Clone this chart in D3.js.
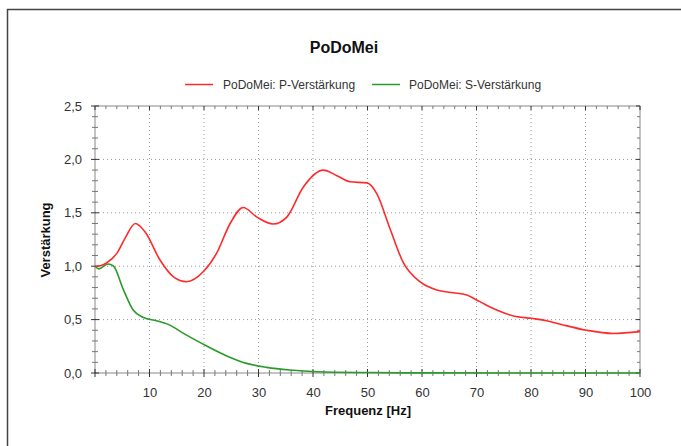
<!DOCTYPE html>
<html>
<head>
<meta charset="utf-8">
<script src="https://cdn.jsdelivr.net/npm/d3@7"></script>
<style>
  html, body { margin: 0; padding: 0; background: #fff; }
  svg { display: block; }
  text { font-family: "Liberation Sans", Arial, sans-serif; }
</style>
</head>
<body>
<svg id="chart" width="681" height="446"></svg>
<script>
// ---- Data ----
const title = "PoDoMei";
const seriesNames = ["PoDoMei: P-Verstärkung", "PoDoMei: S-Verstärkung"];
const xTicks = [10, 20, 30, 40, 50, 60, 70, 80, 90, 100];
const yTicks = [0, 0.5, 1.0, 1.5, 2.0, 2.5];
const yTickLabels = ["0,0", "0,5", "1,0", "1,5", "2,0", "2,5"];

const freqP = [0, 1, 2.1, 4, 5.5, 7.4, 9.2, 11.9, 14.4, 16.8, 19.9, 22.3, 24.8, 27.2, 29.7, 32.7, 35.2, 38.2, 41.9, 44.3, 46.8, 49.9, 51.7, 54.1, 56.6, 59.6, 62.7, 65.7, 68.2, 70.6, 73.7, 76.8, 80.1, 82.9, 85.9, 90.2, 95.1, 100];
const valP  = [1.0, 1.005, 1.03, 1.12, 1.26, 1.40, 1.32, 1.06, 0.90, 0.855, 0.95, 1.12, 1.40, 1.55, 1.46, 1.395, 1.46, 1.74, 1.90, 1.85, 1.79, 1.78, 1.68, 1.355, 1.03, 0.855, 0.777, 0.752, 0.73, 0.668, 0.59, 0.534, 0.512, 0.49, 0.45, 0.40, 0.37, 0.387];

const freqS = [0, 0.7, 2.4, 3.4, 5.2, 7.0, 8.9, 11.3, 13.2, 16.8, 20.5, 24.2, 27.8, 31.5, 35.8, 40.7, 50, 60, 100];
const valS  = [1.0, 0.975, 1.02, 1.0, 0.78, 0.59, 0.52, 0.49, 0.46, 0.355, 0.253, 0.16, 0.09, 0.053, 0.028, 0.012, 0.004, 0.001, 0.0];

const colors = ["#ff2a2a", "#2a9a2a"];

// ---- Layout ----
const svg = d3.select("#chart");
const L = 95, R = 640, T = 106, B = 373;

const x = d3.scaleLinear().domain([0, 100]).range([L, R]);
const y = d3.scaleLinear().domain([0, 2.5]).range([B, T]);

// outer frame
svg.append("rect").attr("x", 7.5).attr("y", 9.5).attr("width", 700).attr("height", 460)
  .attr("fill", "none").attr("stroke", "#444").attr("stroke-width", 1.5);

// title
svg.append("text").attr("x", 344).attr("y", 53).attr("text-anchor", "middle")
  .attr("font-size", 16).attr("font-weight", "bold").attr("fill", "#111").text(title);

// legend
const legendItems = [{x0: 185, tx: 223}, {x0: 372, tx: 409}];
legendItems.forEach((it, i) => {
  svg.append("line").attr("x1", it.x0).attr("x2", it.x0 + 28).attr("y1", 84.5).attr("y2", 84.5)
    .attr("stroke", colors[i]).attr("stroke-width", 1.5);
  svg.append("text").attr("x", it.tx).attr("y", 88.5).attr("font-size", 12)
    .attr("fill", "#333").text(seriesNames[i]);
});

// grid
const grid = svg.append("g");
xTicks.filter(d => d < 100).forEach(d => {
  grid.append("line").attr("x1", x(d)).attr("x2", x(d)).attr("y1", T).attr("y2", B)
    .attr("stroke", "#999").attr("stroke-dasharray", "1,3");
});
yTicks.filter(d => d > 0 && d < 2.5).forEach(d => {
  grid.append("line").attr("x1", L).attr("x2", R).attr("y1", y(d)).attr("y2", y(d))
    .attr("stroke", "#999").attr("stroke-dasharray", "1,3");
});

// plot frame
svg.append("rect").attr("x", L).attr("y", T).attr("width", R - L).attr("height", B - T)
  .attr("fill", "none").attr("stroke", "#888").attr("stroke-width", 1);

// ticks (crossing style)
const tickG = svg.append("g").attr("stroke", "#666");
const xMinor = d3.range(0, 100.01, 2);
xMinor.forEach(d => {
  const major = d % 10 === 0;
  const len = major ? 4 : 3;
  tickG.append("line").attr("x1", x(d)).attr("x2", x(d)).attr("y1", B - len).attr("y2", B + len)
    .attr("stroke", major ? "#333" : "#777");
  tickG.append("line").attr("x1", x(d)).attr("x2", x(d)).attr("y1", T).attr("y2", T + len)
    .attr("stroke", major ? "#333" : "#777");
});
const yMinor = d3.range(0, 25.01, 1).map(d => d / 10);
yMinor.forEach(d => {
  const major = Math.round(d * 10) % 5 === 0;
  const len = major ? 4 : 3;
  tickG.append("line").attr("x1", L - len).attr("x2", L + len).attr("y1", y(d)).attr("y2", y(d))
    .attr("stroke", major ? "#333" : "#777");
  tickG.append("line").attr("x1", R - len).attr("x2", R).attr("y1", y(d)).attr("y2", y(d))
    .attr("stroke", major ? "#333" : "#777");
});

// axes labels via d3 axes (text only)
const xAxis = svg.append("g").attr("transform", `translate(0,${B})`)
  .call(d3.axisBottom(x).tickValues(xTicks).tickSize(0).tickPadding(15).tickFormat(d3.format("d")));
xAxis.select(".domain").remove();
xAxis.selectAll("text").attr("font-size", 13).attr("fill", "#333")
  .attr("font-family", "Liberation Sans, Arial, sans-serif");

const yAxis = svg.append("g").attr("transform", `translate(${L},0)`)
  .call(d3.axisLeft(y).tickValues(yTicks).tickSize(0).tickPadding(13)
    .tickFormat((d, i) => yTickLabels[i]));
yAxis.select(".domain").remove();
yAxis.selectAll("text").attr("font-size", 13).attr("fill", "#333")
  .attr("font-family", "Liberation Sans, Arial, sans-serif");

svg.append("text").attr("x", 368).attr("y", 415).attr("text-anchor", "middle")
  .attr("font-size", 13).attr("font-weight", "bold").attr("fill", "#111").text("Frequenz [Hz]");
svg.append("text").attr("transform", "translate(50,240) rotate(-90)").attr("text-anchor", "middle")
  .attr("font-size", 13).attr("font-weight", "bold").attr("fill", "#111").text("Verstärkung");

// lines
const line = d3.line().x(d => x(d[0])).y(d => y(d[1])).curve(d3.curveMonotoneX);
const dataP = freqP.map((f, i) => [f, valP[i]]);
const dataS = freqS.map((f, i) => [f, valS[i]]);
svg.append("path").datum(dataS).attr("d", line).attr("fill", "none")
  .attr("stroke", colors[1]).attr("stroke-width", 1.6);
svg.append("path").datum(dataP).attr("d", line).attr("fill", "none")
  .attr("stroke", colors[0]).attr("stroke-width", 1.6);
</script>
</body>
</html>
